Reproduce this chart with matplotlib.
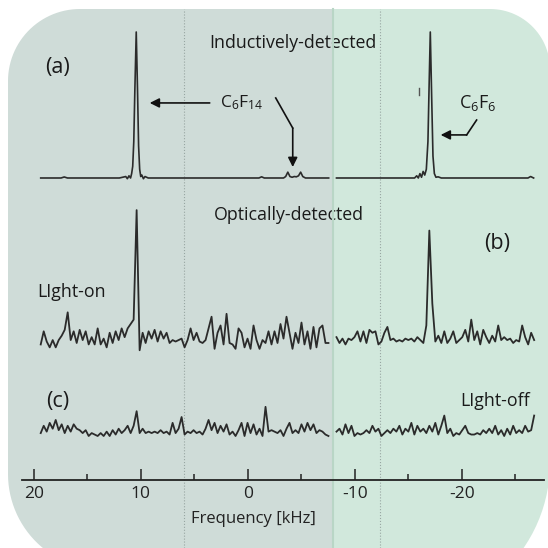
import numpy as np
import matplotlib
matplotlib.use('Agg')
import matplotlib.pyplot as plt
from matplotlib.patches import Polygon, Rectangle
from matplotlib.ticker import MultipleLocator

plt.rcParams['font.family'] = ['Open Sans', 'DejaVu Sans']
plt.rcParams['mathtext.default'] = 'regular'
plt.rcParams['axes.unicode_minus'] = False

# Frequency ranges (kHz) of the two acquisition windows, sampled evenly
left_range = (19.35, -7.55)
right_range = (-8.3, -26.78)

# Optically detected spectra, intensity in % of the inductive C6F14 peak
light_on_left = [-3, 6, -1, -5, 0, -5, 0, 3, 7, 19, 0, 6, -2, 7, 0, 6, -3, 2, -3, 8,
                 -3, 1, -5, 5, -2, 6, 0, 8, 2, 8, 11, 14, 89, -7, 5, -2, 6, 1, 7, -1,
                 6, 1, 5, -2, 0, -1, 0, 1, -5, 0, 8, 0, 5, -1, -2, 0, 8, 16, -6, 5,
                 10, -3, 18, -2, -3, -6, 8, 5, -5, 1, -6, 10, 0, -6, 0, -2, 6, -3, 6, -2,
                 11, 1, 16, 5, -6, 5, -2, 12, -3, 6, -6, 9, -5, 8, 10, -2, -2]
light_on_right = [2, -2, 1, -3, 1, 0, 2, 6, -1, 6, -2, 7, 5, 6, -3, -1, 5, 9, 0, 1,
                  -1, 0, -1, 1, 0, 1, -1, 2, 0, -2, 10, 75, 25, -1, 3, -2, 6, -2, 1, 6,
                  -2, 0, 2, 7, -1, 14, 0, 6, -3, 7, 2, -2, 3, -1, 10, 0, 2, 0, 1, -2,
                  0, -1, 10, 2, -3, 5, 0]
light_off_left = [0, 5, 1, 7, 3, 9, 2, 6, 0, 5, 1, 6, 3, 2, 0, 2, -2, 0, -1, -2,
                  0, -2, 1, -2, 2, -1, 3, 0, 2, 5, 0, 5, 15, 0, 3, 0, 1, 0, 1, 0,
                  2, 0, 1, -1, 7, 0, 3, 11, -1, 1, 0, 2, 0, 1, -1, 3, 9, 2, 7, 0,
                  5, 1, 6, -1, 1, -2, 2, 7, -2, 7, 0, 6, -1, 3, -2, 18, 1, 2, 1, 0,
                  2, -2, 3, 7, 0, 2, 0, 6, 1, 7, 2, 6, 0, 2, 1, -1, -2]
light_off_right = [1, 3, -1, 6, 0, 5, -2, 0, -1, 0, 2, 0, 5, 1, 3, -2, 0, 2, 0, 3,
                   1, 5, -1, 3, 1, 7, -1, 5, 1, 3, 0, 5, 1, 7, -1, 5, 12, 0, 3, -2,
                   0, -1, 2, 5, 0, -1, -1, 0, -1, 2, 0, 3, 0, 5, -1, 2, -2, 3, -1, 5,
                   0, 2, 0, 5, 1, 2, 12]

# Inductively detected spectrum, listed point by point
ind_left_freq = [19.35, 17.45, 17.15, 16.85, 12.0, 11.4, 11.25, 11.1, 10.95, 10.85,
                 10.75, 10.65, 10.55, 10.42, 10.3, 10.2, 10.1, 10.0, 9.9, 9.75,
                 9.6, 9.3, 0.0, -1.05, -1.3, -1.55, -3.35, -3.55, -3.75, -3.95,
                 -4.15, -4.35, -4.55, -4.75, -4.95, -5.15, -5.4, -7.57]
ind_left_vals = [0, 0, 0.7, 0, 0, 1, -0.5, 1.5, 0, 3,
                 8, 25, 60, 100, 60, 22, 6, 1, 2, -0.5,
                 1, 0, 0, 0, 0.8, 0, 0, 1, 4, 1,
                 0.5, 1, 0.8, 1.5, 4, 1, 0, 0]
ind_right_freq = [-8.3, -12.0, -15.6, -15.8, -15.95, -16.1, -16.25, -16.4, -16.55, -16.7,
                  -16.85, -16.95, -17.07, -17.2, -17.32, -17.45, -17.6, -17.8, -18.1, -26.2,
                  -26.45, -26.73]
ind_right_vals = [0, 0, 0, 1.5, 0, 3, 0.5, 4.5, 2, 6,
                  25, 60, 100, 55, 15, 3, 0.5, 0.8, 0, 0,
                  1, 0]

# vertical offsets of the stacked traces and of the frequency axis
ind_offset = 0
on_offset = -111
off_offset = -174.7
axis_level = -206.8

line_color = '#2b2b2b'


def rounded_outline(corners):
    """Outline built from four corner arcs: (cx, cy, r, start_deg)."""
    pts = []
    for cx, cy, r, a0 in corners:
        t = np.radians(np.linspace(a0, a0 + 90, 30))
        pts.append(np.column_stack([cx + r * np.cos(t), cy + r * np.sin(t)]))
    return np.vstack(pts)


fig = plt.figure(figsize=(5.48, 5.48), dpi=100)

# two-tone backdrop with rounded corners, drawn in pixel units (y down)
bg = fig.add_axes([0, 0, 1, 1])
bg.set_xlim(0, 548)
bg.set_ylim(548, 0)
bg.axis('off')
outline = rounded_outline([(80, 81, 72, 180), (490, 69, 60, 270),
                           (400, 463, 150, 0), (104, 474, 96, 90)])
frame = Polygon(outline, closed=True, fc='none', ec='none')
bg.add_patch(frame)
left_panel = Rectangle((0, 0), 333, 560, fc='#cfdcd8', ec='none')
right_panel = Rectangle((333, 0), 260, 560, fc='#d1e8dc', ec='none')
for p in (left_panel, right_panel):
    bg.add_patch(p)
    p.set_clip_path(frame)
bg.plot([419, 419], [88, 95], color='#555555', lw=1)

# spectra
ax = fig.add_axes([22 / 548, 0, 522 / 548, 1])
ax.set_facecolor('none')
ax.set_xlim(21.1, -27.7)
ax.set_ylim(-253.4, 121.9)

ax.axvline(6.0, ymin=0, ymax=0.984, color='#98a6a2', ls=':', lw=0.8)
ax.axvline(-12.4, ymin=0, ymax=0.984, color='#98a6a2', ls=':', lw=0.8)
ax.axvline(-7.95, ymin=0, ymax=0.984, color='#b9d6c6', lw=1.5)

ax.plot(ind_left_freq, np.array(ind_left_vals) + ind_offset, color=line_color, lw=1.2)
ax.plot(ind_right_freq, np.array(ind_right_vals) + ind_offset, color=line_color, lw=1.2)

for vals, rng, off in [(light_on_left, left_range, on_offset),
                       (light_on_right, right_range, on_offset),
                       (light_off_left, left_range, off_offset),
                       (light_off_right, right_range, off_offset)]:
    freq = np.linspace(rng[0], rng[1], len(vals))
    ax.plot(freq, np.array(vals) + off, color=line_color, lw=1.3)

# frequency axis
for s in ['top', 'right', 'left']:
    ax.spines[s].set_visible(False)
ax.spines['bottom'].set_position(('data', axis_level))
ax.spines['bottom'].set_linewidth(1.3)
ax.spines['bottom'].set_color('#222222')
ax.xaxis.set_major_locator(MultipleLocator(10))
ax.xaxis.set_minor_locator(MultipleLocator(5))
ax.tick_params(axis='x', which='major', direction='in', length=8, width=1.1,
               labelsize=12.5, pad=4, colors='#222222')
ax.tick_params(axis='x', which='minor', direction='in', length=4.5, width=1.1,
               colors='#222222')
ax.set_yticks([])
ax.set_xlabel('Frequency [kHz]', fontsize=12, color='#222222')
ax.xaxis.set_label_coords(0.444, 0.0675)

# peak labels with arrows
arrow = dict(arrowstyle='-|>', color='#111111', lw=1.2, mutation_scale=14,
             shrinkA=0, shrinkB=0)
ax.annotate('', xy=(9.16, 51.4), xytext=(3.55, 51.4), arrowprops=arrow)
ax.plot([-2.62, -4.21], [54.8, 34.2], color='#111111', lw=1.2)
ax.annotate('', xy=(-4.21, 7.5), xytext=(-4.21, 34.2), arrowprops=arrow)
ax.plot([-21.4, -20.47], [39.7, 29.5], color='#111111', lw=1.2)
ax.annotate('', xy=(-18.04, 29.5), xytext=(-20.47, 29.5), arrowprops=arrow)

tc = '#1a1a1a'
bg.text(220, 103, 'C$_6$F$_{14}$', fontsize=12.5, ha='left', va='center', color=tc)
bg.text(478, 103, 'C$_6$F$_6$', fontsize=13, ha='center', va='center', color=tc)
bg.text(293, 43, 'Inductively-detected', fontsize=12.8, ha='center', va='center', color=tc)
bg.text(289, 215, 'Optically-detected', fontsize=12.8, ha='center', va='center', color=tc)
bg.text(58, 68, '(a)', fontsize=15.5, ha='center', va='center', color=tc)
bg.text(497, 243, '(b)', fontsize=15.5, ha='center', va='center', color=tc)
bg.text(58, 401, '(c)', fontsize=15.5, ha='center', va='center', color=tc)
bg.text(72, 292, 'LIght-on', fontsize=12.8, ha='center', va='center', color=tc)
bg.text(495, 401, 'LIght-off', fontsize=12.8, ha='center', va='center', color=tc)

fig.savefig('out.png', dpi=100, facecolor='white')
